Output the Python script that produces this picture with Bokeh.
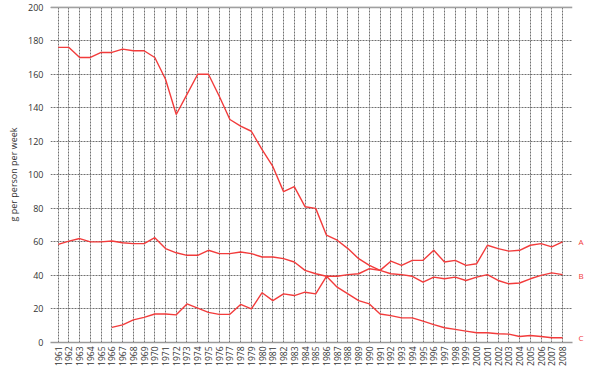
from math import pi
from bokeh.plotting import figure
from bokeh.models import FixedTicker, Span, Range1d, LinearAxis
from bokeh.embed import file_html
from bokeh.resources import INLINE

years = list(range(1961, 2009))
series_a = [176, 176, 170, 170, 173, 173, 175, 174, 174, 170,
            157, 136, 148, 160, 160, 147, 133, 129, 126, 115,
            105, 90, 93, 81, 80, 64, 61, 56, 50, 46,
            43, 48.5, 46, 49, 49, 55, 48, 49, 46, 47,
            58, 56, 54.5, 55, 58, 59, 57, 60]
series_b = [58.5, 60.5, 62, 60, 60, 60.5, 59.5, 59, 59, 62.5,
            56, 53.5, 52, 52, 55, 53, 53, 54, 53, 51,
            51, 50, 48, 43, 41, 39.5, 39.5, 40.5, 41, 44,
            43, 41, 40.5, 39.5, 36, 39, 38, 39, 37, 39,
            40.5, 37, 35, 35.5, 38, 40, 41.5, 40.5]
years_c = list(range(1966, 2009))
series_c = [9, 10.5, 13.5, 15, 17, 17, 16.5, 23, 20.5, 18,
            16.8, 16.8, 22.7, 20, 29.7, 25, 29, 28, 30, 29,
            39.5, 33, 29, 25, 23, 17, 16, 14.7, 14.7, 12.7,
            10.7, 8.8, 7.8, 6.8, 5.8, 5.8, 5.2, 5, 3.6, 4.2,
            3.6, 2.8, 2.8]
y_ticks = list(range(0, 201, 20))
end_labels = ["A", "B", "C"]
y_title = "g per person per week"

RED = "#f23b3b"
FONT = "Open Sans"

p = figure(width=594, height=370, output_backend="svg", toolbar_location=None,
           x_range=Range1d(1960.28, 2008.93), y_range=Range1d(0, 200.4),
           min_border_left=50, min_border_right=22, min_border_top=6, min_border_bottom=28)
p.outline_line_color = None
p.background_fill_color = "white"

p.xaxis.ticker = FixedTicker(ticks=years)
p.yaxis.ticker = FixedTicker(ticks=y_ticks)
p.xaxis.major_label_orientation = pi / 2
p.xaxis.major_tick_line_color = None
p.xaxis.minor_tick_line_color = None
p.xaxis.major_tick_out = 0
p.xaxis.major_label_standoff = 4
p.xaxis.axis_line_color = "#9a9a9a"
p.xaxis.axis_line_width = 1.5
p.xaxis.major_label_text_font = FONT
p.xaxis.major_label_text_font_size = "8.5px"
p.xaxis.major_label_text_color = "#333333"

p.yaxis.axis_line_color = None
p.yaxis.major_tick_line_color = None
p.yaxis.minor_tick_line_color = None
p.yaxis.major_tick_out = 0
p.yaxis.major_label_standoff = 7
p.yaxis.major_label_text_font = FONT
p.yaxis.major_label_text_font_size = "9px"
p.yaxis.major_label_text_color = "#333333"
p.yaxis.axis_label = y_title
p.yaxis.axis_label_text_font = FONT
p.yaxis.axis_label_text_font_size = "9px"
p.yaxis.axis_label_text_font_style = "normal"
p.yaxis.axis_label_text_color = "#333333"
p.yaxis.axis_label_standoff = 5

for g in (p.xgrid, p.ygrid):
    g.grid_line_color = "#707070"
    g.grid_line_dash = "2 1"
    g.grid_line_width = 1

p.add_layout(Span(location=200, dimension="width", line_color="#a0a0a0", line_width=2))

p.line(years, series_a, line_color=RED, line_width=1.4)
p.line(years, series_b, line_color=RED, line_width=1.4)
p.line(years_c, series_c, line_color=RED, line_width=1.4)

# end-of-series letters placed via a right-hand axis at the last values
last_vals = [series_a[-1], series_b[-1], series_c[-1]]
label_ticks = [round(v) for v in last_vals]
right_axis = LinearAxis(ticker=FixedTicker(ticks=label_ticks),
                        major_label_overrides={t: s for t, s in zip(label_ticks, end_labels)})
right_axis.axis_line_color = None
right_axis.major_tick_line_color = None
right_axis.minor_tick_line_color = None
right_axis.major_tick_out = 0
right_axis.major_label_standoff = 6
right_axis.major_label_text_color = RED
right_axis.major_label_text_font = FONT
right_axis.major_label_text_font_size = "8px"
p.add_layout(right_axis, "right")

open("out.html", "w").write(file_html(p, INLINE))
